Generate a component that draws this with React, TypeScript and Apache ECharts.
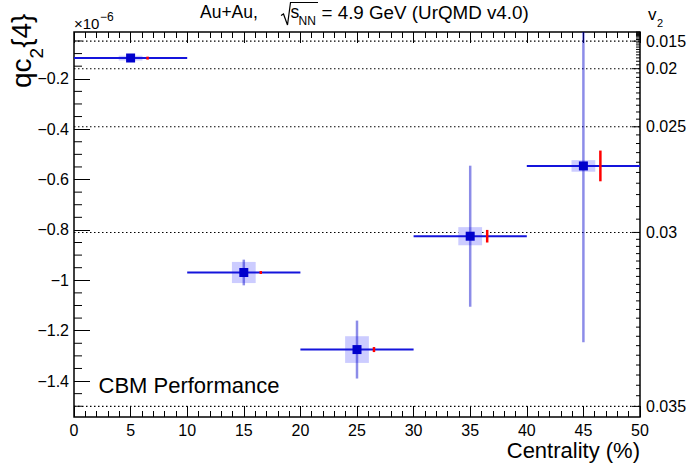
import React, { useEffect, useRef } from "react";
import * as echarts from "echarts";

// ---- data ----
const centrality = [5, 15, 25, 35, 45];
const binHalfWidth = [5, 5, 5, 5, 5];
const qc24 = [-0.118, -0.969, -1.275, -0.825, -0.546]; // ×10^-6
const statErr = [0.006, 0.051, 0.115, 0.28, 0.7];
const sysErr = [0.009, 0.042, 0.053, 0.036, 0.023];
const v2Err = [0.004, 0.006, 0.01, 0.025, 0.061];
const v2Labels = [0.015, 0.02, 0.025, 0.03, 0.035];
const yMinorStep = 0.05;

// ---- axis ranges ----
const X_MIN = 0;
const X_MAX = 50;
const Y_MIN = -1.5427;
const Y_MAX = -0.0143;

const FONT = '"Liberation Sans", Arial, Helvetica, sans-serif';
const SYS_HALF_W = 1.05;
const RED_DX = 1.5;

const qcFromV2 = (v: number) => -Math.pow(v, 4) * 1e6;

// v2 axis ticks (right side)
const v2TickData: number[][] = [];
{
  const vals: number[] = [];
  for (let k = 22; k <= 70; k++) vals.push(k * 0.0005);
  for (let k = 121; k < 140; k += 2) vals.push(k * 0.00025);
  vals.forEach((v) => {
    const q = qcFromV2(v);
    if (q < Y_MIN || q > Y_MAX) return;
    const lab = v2Labels.find((l) => Math.abs(l - v) < 1e-7);
    v2TickData.push([X_MAX, q, lab !== undefined ? 1 : 0, lab !== undefined ? lab : 0]);
  });
}

// left minor ticks
const yMinorData: number[][] = [];
for (let k = 1; k * yMinorStep < -Y_MIN; k++) {
  if (k % 4 === 0) continue;
  const q = -k * yMinorStep;
  if (q > Y_MIN && q < Y_MAX) yMinorData.push([X_MIN, q]);
}

const pointData = centrality.map((c, i) => [c, qc24[i], binHalfWidth[i], statErr[i], sysErr[i], v2Err[i]]);

const tickCommon = {
  axisLine: { show: false },
  axisTick: { inside: true, length: 11, lineStyle: { color: "#000", width: 1 } },
  minorTick: { show: true, splitNumber: 5, length: 6, lineStyle: { color: "#000", width: 1 } },
  splitLine: { show: false },
  minorSplitLine: { show: false },
};

const option: any = {
  animation: false,
  backgroundColor: "#fff",
  textStyle: { fontFamily: FONT },
  grid: {
    left: 74,
    right: 47,
    top: 32,
    bottom: 53,
    show: true,
    borderColor: "#000",
    borderWidth: 1.5,
    backgroundColor: "transparent",
    containLabel: false,
    outerBoundsMode: "none",
  },
  xAxis: [
    {
      type: "value",
      min: X_MIN,
      max: X_MAX,
      interval: 5,
      position: "bottom",
      ...tickCommon,
      axisLabel: { color: "#000", fontSize: 16, margin: 5, fontFamily: FONT },
    },
    {
      type: "value",
      min: X_MIN,
      max: X_MAX,
      interval: 5,
      position: "top",
      ...tickCommon,
      axisLabel: { show: false },
    },
  ],
  yAxis: [
    {
      type: "value",
      min: Y_MIN,
      max: Y_MAX,
      splitNumber: 7,
      position: "left",
      axisLine: { show: false },
      axisTick: { inside: true, length: 16, lineStyle: { color: "#000", width: 1 } },
      splitLine: { show: false },
      axisLabel: {
        showMinLabel: false,
        showMaxLabel: false,
        color: "#000",
        fontSize: 16,
        margin: 5,
        fontFamily: FONT,
        formatter: (v: number) => String(Number(v.toFixed(3))).replace("-", "\u2212"),
      },
    },
  ],
  series: [
    {
      type: "custom",
      name: "v2axis",
      silent: true,
      clip: false,
      encode: { x: 0, y: 1 },
      data: v2TickData,
      renderItem: (params: any, api: any) => {
        const p = api.coord([api.value(0), api.value(1)]);
        const major = api.value(2) === 1;
        const len = major ? 8 : 4;
        const children: any[] = [
          { type: "line", shape: { x1: p[0] - len, y1: p[1], x2: p[0], y2: p[1] }, style: { stroke: "#000", lineWidth: 1 } },
        ];
        if (major) {
          const p0 = api.coord([X_MIN, api.value(1)]);
          children.push({
            type: "line",
            shape: { x1: p0[0], y1: p0[1], x2: p[0], y2: p[1] },
            style: { stroke: "#000", lineWidth: 1.1, lineDash: [1.5, 2.5] },
          });
          children.push({
            type: "text",
            x: p[0] + 6,
            y: p[1],
            style: {
              text: String(api.value(3)),
              fill: "#000",
              fontSize: 16,
              fontFamily: FONT,
              align: "left",
              verticalAlign: "middle",
            },
          });
        }
        return { type: "group", children };
      },
    },
    {
      type: "custom",
      name: "yminor",
      silent: true,
      encode: { x: 0, y: 1 },
      data: yMinorData,
      renderItem: (params: any, api: any) => {
        const p = api.coord([api.value(0), api.value(1)]);
        return { type: "line", shape: { x1: p[0], y1: p[1], x2: p[0] + 8, y2: p[1] }, style: { stroke: "#000", lineWidth: 1 } };
      },
    },
    {
      type: "custom",
      name: "qc24",
      silent: true,
      clip: true,
      encode: { x: 0, y: 1 },
      data: pointData,
      renderItem: (params: any, api: any) => {
        const x = api.value(0);
        const y = api.value(1);
        const hw = api.value(2);
        const st = api.value(3);
        const sy = api.value(4);
        const rv = api.value(5);
        const c = api.coord([x, y]);
        const l = api.coord([x - hw, y]);
        const r = api.coord([x + hw, y]);
        const t = api.coord([x, y + st]);
        const b = api.coord([x, y - st]);
        const b0 = api.coord([x - SYS_HALF_W, y + sy]);
        const b1 = api.coord([x + SYS_HALF_W, y - sy]);
        const r0 = api.coord([x + RED_DX, y + rv]);
        const r1 = api.coord([x + RED_DX, y - rv]);
        const rTop = Math.min(r0[1], r1[1], c[1] - 1.5);
        const rBot = Math.max(r0[1], r1[1], c[1] + 1.5);
        const ms = 9;
        return {
          type: "group",
          children: [
            { type: "rect", shape: { x: b0[0], y: b0[1], width: b1[0] - b0[0], height: b1[1] - b0[1] }, style: { fill: "#ccccff" } },
            { type: "line", shape: { x1: l[0], y1: l[1], x2: r[0], y2: r[1] }, style: { stroke: "#1414dc", lineWidth: 2 } },
            { type: "line", shape: { x1: t[0], y1: t[1], x2: b[0], y2: b[1] }, style: { stroke: "rgba(0,0,204,0.45)", lineWidth: 2.5 } },
            { type: "line", shape: { x1: r0[0], y1: rTop, x2: r0[0], y2: rBot }, style: { stroke: "#ff0000", lineWidth: 2.5 } },
            { type: "rect", shape: { x: c[0] - ms / 2, y: c[1] - ms / 2, width: ms, height: ms }, style: { fill: "#0000cc" } },
          ],
        };
      },
    },
  ],
  graphic: [
    // title
    { type: "text", x: 200, y: 12.4, style: { text: "Au+Au,", fontSize: 17.5, fontFamily: FONT, fill: "#000", verticalAlign: "middle" } },
    {
      type: "polyline",
      shape: { points: [[281, 15.5], [283.5, 14], [287.5, 25], [290.5, 2.5], [318, 2.5]] },
      style: { stroke: "#000", lineWidth: 1.2, fill: null },
    },
    { type: "text", x: 290.5, y: 12.4, style: { text: "s", fontSize: 17.5, fontFamily: FONT, fill: "#000", verticalAlign: "middle" } },
    { type: "text", x: 298.5, y: 20.5, style: { text: "NN", fontSize: 12, fontFamily: FONT, fill: "#000", verticalAlign: "middle" } },
    { type: "text", x: 321.5, y: 12.4, style: { text: "= 4.9 GeV (UrQMD v4.0)", fontSize: 18.8, fontFamily: FONT, fill: "#000", verticalAlign: "middle" } },
    // exponent
    { type: "text", x: 74, y: 23, style: { text: "\u00d710", fontSize: 15, fontFamily: FONT, fill: "#000", verticalAlign: "middle" } },
    { type: "text", x: 100, y: 17, style: { text: "\u22126", fontSize: 12, fontFamily: FONT, fill: "#000", verticalAlign: "middle" } },
    // v2 label
    { type: "text", x: 648, y: 14.8, style: { text: "v", fontSize: 17, fontFamily: FONT, fill: "#000", verticalAlign: "middle" } },
    { type: "text", x: 657, y: 22.5, style: { text: "2", fontSize: 11, fontFamily: FONT, fill: "#000", verticalAlign: "middle" } },
    // y title (rotated)
    {
      type: "group",
      x: 31,
      y: 88,
      rotation: Math.PI / 2,
      children: [
        { type: "text", x: 0, y: -9.7, style: { text: "qc", fontSize: 28, fontFamily: FONT, fill: "#000", verticalAlign: "middle" } },
        { type: "text", x: 29.6, y: 5, style: { text: "2", fontSize: 19, fontFamily: FONT, fill: "#000", verticalAlign: "middle" } },
        { type: "text", x: 40.2, y: -9.7, style: { text: "{4}", fontSize: 28, fontFamily: FONT, fill: "#000", verticalAlign: "middle" } },
      ],
    },
    // x title
    { type: "text", x: 640, y: 450.5, style: { text: "Centrality (%)", fontSize: 22, fontFamily: FONT, fill: "#000", align: "right", verticalAlign: "middle" } },
    // label
    { type: "text", x: 98.5, y: 385.7, style: { text: "CBM Performance", fontSize: 22, fontFamily: FONT, fill: "#000", verticalAlign: "middle" } },
  ],
};

export default function App() {
  const ref = useRef<HTMLDivElement>(null);
  useEffect(() => {
    const chart = echarts.init(ref.current!, null, { renderer: "svg" });
    chart.setOption(option);
    return () => chart.dispose();
  }, []);
  return <div ref={ref} style={{ position: "absolute", left: 0, top: 0, width: 687, height: 470 }} />;
}
